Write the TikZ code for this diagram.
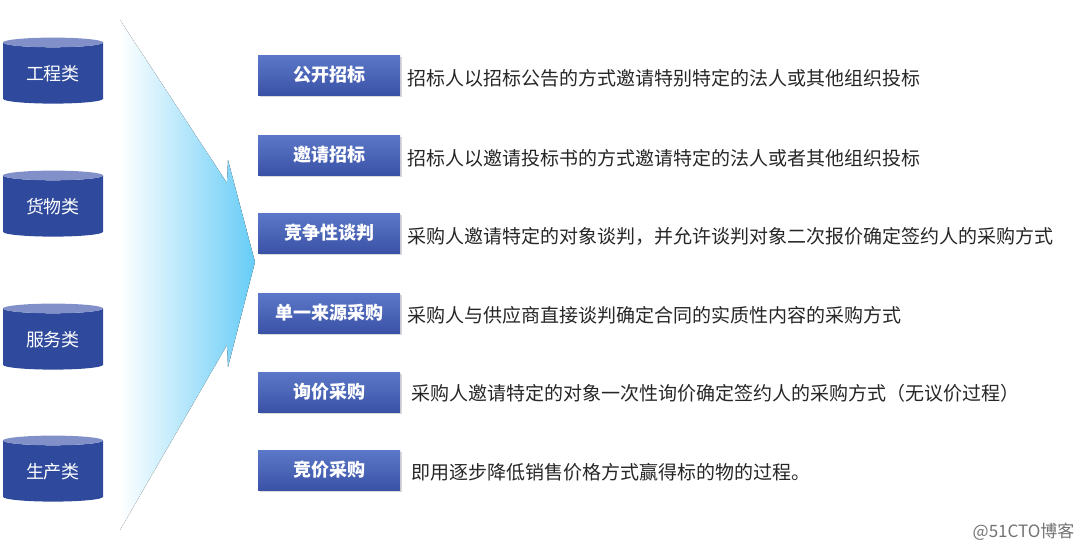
\documentclass[tikz,border=0pt]{standalone}
\usepackage{fontspec}
\setmainfont{Noto Sans CJK SC}
\usetikzlibrary{positioning,shapes.geometric,shadows}

\definecolor{cylbody}{HTML}{2F4A9C}
\definecolor{cyltop}{HTML}{8190C8}
\definecolor{boxtop}{HTML}{5C78C8}
\definecolor{boxbot}{HTML}{3A52A6}
\definecolor{arrowblue}{HTML}{66CCF6}

\begin{document}
\begin{tikzpicture}[x=1pt,y=-1pt]
	\tikzset{cyl/.style={cylinder,shape border rotate=90,aspect=0.16,minimum width=100pt,minimum height=66pt,
		cylinder uses custom fill,cylinder body fill=cylbody,cylinder end fill=cyltop,
		text=white,font=\fontsize{18}{20}\selectfont}}
	\tikzset{method/.style={rectangle,minimum width=142pt,minimum height=40pt,top color=boxtop,bottom color=boxbot,
		drop shadow={opacity=0.3,shadow xshift=1.5pt,shadow yshift=-2pt},
		text=white,font=\bfseries\fontsize{18}{20}\selectfont}}
	\tikzset{desc/.style={anchor=west,text=black!85,font=\fontsize{19}{22}\selectfont}}
	\useasboundingbox (0,0) rectangle (1080,554);

	%% big arrow
	\fill[left color=white,right color=arrowblue]
		(120,20) -- (227,183) -- (228,160) -- (255,262) -- (228,367) -- (227,345) -- (120,530) -- cycle;

	%% categories
	\node[cyl] (gc) at (53,74) {工程类};
	\node[cyl] (hw) at (53,207) {货物类};
	\node[cyl] (fw) at (53,340) {服务类};
	\node[cyl] (sc) at (53,472) {生产类};

	%% methods
	\node[method] (gk) at (329,75) {公开招标};
	\node[method] (yq) at (329,155) {邀请招标};
	\node[method] (jz) at (329,233) {竞争性谈判};
	\node[method] (dy) at (329,313) {单一来源采购};
	\node[method] (xj) at (329,392) {询价采购};
	\node[method] (jj) at (329,470) {竞价采购};

	%% descriptions
	\node[desc] (gkd) at (404,78) {招标人以招标公告的方式邀请特别特定的法人或其他组织投标};
	\node[desc] (yqd) at (404,158) {招标人以邀请投标书的方式邀请特定的法人或者其他组织投标};
	\node[desc] (jzd) at (404,236) {采购人邀请特定的对象谈判，并允许谈判对象二次报价确定签约人的采购方式};
	\node[desc] (dyd) at (404,315) {采购人与供应商直接谈判确定合同的实质性内容的采购方式};
	\node[desc] (xjd) at (408,393) {采购人邀请特定的对象一次性询价确定签约人的采购方式（无议价过程）};
	\node[desc] (jjd) at (408,472) {即用逐步降低销售价格方式赢得标的物的过程。};

	\node[anchor=east,text=black!55,font=\fontsize{17}{19}\selectfont] (mark) at (1078,532) {@51CTO博客};
\end{tikzpicture}
\end{document}
